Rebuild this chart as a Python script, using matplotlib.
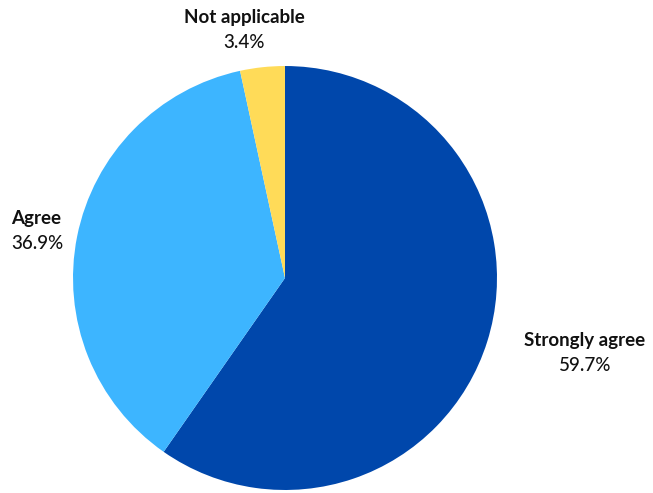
import matplotlib
matplotlib.use("Agg")
import matplotlib.pyplot as plt

categories = ["Strongly agree", "Agree", "Not applicable"]
values = [59.7, 36.9, 3.4]
colors = ["#0047AB", "#3DB5FF", "#FFDB58"]

plt.rcParams["font.family"] = ["Lato", "DejaVu Sans"]

fig = plt.figure(figsize=(6.53, 4.93), dpi=100)
ax = fig.add_axes([0.1118, 0.0061, 0.6493, 0.860])
ax.pie(values, colors=colors, startangle=90, counterclock=False,
       wedgeprops={"linewidth": 0})
ax.set_xlim(-1, 1)
ax.set_ylim(-1, 1)
ax.set_aspect("equal")

# label positions (data coords of pie axes)
label_pos = {
    "Strongly agree": (1.415, -0.297, "center"),
    "Agree": (-1.292, 0.283, "left"),
    "Not applicable": (-0.193, 1.23, "center"),
}
for cat, val in zip(categories, values):
    x, y, ha = label_pos[cat]
    ax.text(x, y, cat, ha=ha, va="center", fontsize=13.5, fontweight="bold",
            color="#111111", clip_on=False)
    ax.text(x, y - 0.118, f"{val}%", ha=ha, va="center", fontsize=13.5,
            fontweight="medium", color="#111111", clip_on=False)

fig.savefig("out.png", dpi=100)
